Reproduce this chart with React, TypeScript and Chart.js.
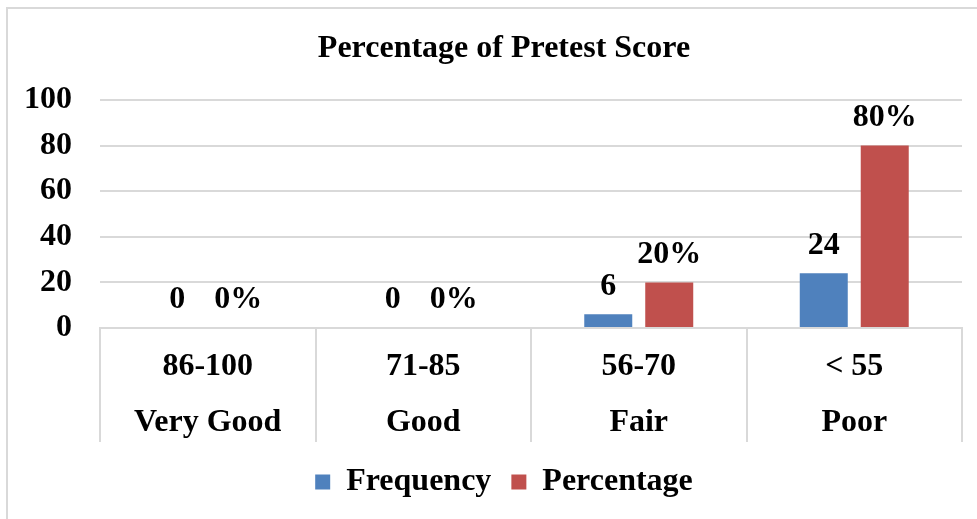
import React, { useEffect, useRef } from 'react';
import { Chart, registerables } from 'chart.js';

Chart.register(...registerables);

const categories: string[][] = [
  ['86-100', 'Very Good'],
  ['71-85', 'Good'],
  ['56-70', 'Fair'],
  ['< 55', 'Poor'],
];
const frequency = [0, 0, 6, 24];
const percentage = [0, 0, 20, 80];
const seriesNames = ['Frequency', 'Percentage'];
const seriesColors = ['#4f81bd', '#c0504d'];
const yMin = 0;
const yMax = 100;
const yStep = 20;
const titleText = 'Percentage of Pretest Score';

const FONT = '"Liberation Serif", "Times New Roman", serif';
const GRID = '#d9d9d9';
const FS = 32;

const decorPlugin = {
  id: 'decor',
  beforeDraw(chart: any) {
    const ctx = chart.ctx;
    ctx.save();
    ctx.fillStyle = '#ffffff';
    ctx.fillRect(0, 0, chart.width, chart.height);
    ctx.strokeStyle = GRID;
    ctx.lineWidth = 2;
    ctx.strokeRect(7, 8, chart.width + 40, chart.height + 40);
    ctx.restore();
  },
  afterDraw(chart: any) {
    const ctx = chart.ctx;
    const x = chart.scales.x;
    const n = categories.length;
    const area = chart.chartArea;
    ctx.save();
    ctx.strokeStyle = GRID;
    ctx.lineWidth = 2;
    for (let i = 0; i <= n; i++) {
      const px = Math.round(x.left + (i * (x.right - x.left)) / n);
      ctx.beginPath();
      ctx.moveTo(px, area.bottom);
      ctx.lineTo(px, area.bottom + 114);
      ctx.stroke();
    }
    ctx.restore();
  },
  afterDatasetsDraw(chart: any) {
    const ctx = chart.ctx;
    ctx.save();
    ctx.font = `bold ${FS}px ${FONT}`;
    ctx.fillStyle = '#000000';
    ctx.textAlign = 'center';
    ctx.textBaseline = 'middle';
    chart.data.datasets.forEach((ds: any, di: number) => {
      const meta = chart.getDatasetMeta(di);
      meta.data.forEach((el: any, i: number) => {
        const v = ds.data[i];
        const txt = di === 1 ? `${v}%` : `${v}`;
        ctx.fillText(txt, el.x, el.y - 28);
      });
    });
    ctx.restore();
  },
};

export default function App() {
  const ref = useRef<HTMLCanvasElement | null>(null);
  useEffect(() => {
    if (!ref.current) return;
    const chart = new Chart(ref.current, {
      type: 'bar',
      data: {
        labels: categories as any,
        datasets: [
          {
            label: seriesNames[0],
            data: frequency,
            backgroundColor: seriesColors[0],
            barPercentage: 0.787,
            categoryPercentage: 0.566,
          },
          {
            label: seriesNames[1],
            data: percentage,
            backgroundColor: seriesColors[1],
            barPercentage: 0.787,
            categoryPercentage: 0.566,
          },
        ],
      },
      options: {
        animation: false,
        responsive: false,
        layout: { padding: { left: 0, right: 0, top: 0, bottom: 11 } },
        plugins: {
          title: {
            display: true,
            text: titleText,
            color: '#000',
            font: { family: FONT, size: FS, weight: 'bold', lineHeight: 1.2 },
            padding: { top: 29.8, bottom: 31.8 },
          },
          legend: {
            position: 'bottom',
            labels: {
              color: '#000',
              font: { family: FONT, size: FS, weight: 'bold' },
              boxWidth: 15,
              boxHeight: 15,
              padding: 20,
            },
          },
          tooltip: { enabled: false },
        },
        scales: {
          x: {
            grid: { display: false, drawTicks: false },
            border: { display: true, color: GRID, width: 2 },
            ticks: {
              color: '#000',
              padding: 11,
              maxRotation: 0,
              autoSkip: false,
              font: { family: FONT, size: FS, weight: 'bold', lineHeight: '56px' as any },
            },
            afterFit: (s: any) => {
              s.height = 118;
            },
          },
          y: {
            min: yMin,
            max: yMax,
            ticks: {
              stepSize: yStep,
              color: '#000',
              padding: 28,
              font: { family: FONT, size: FS, weight: 'bold' },
            },
            grid: { color: GRID, lineWidth: 2, drawTicks: false },
            border: { display: false },
            afterFit: (s: any) => {
              s.width = 100;
            },
          },
          spacer: {
            type: 'linear',
            position: 'right',
            display: true,
            grid: { display: false, drawTicks: false },
            border: { display: false },
            ticks: { display: false },
            afterFit: (s: any) => {
              s.width = 46;
            },
          },
        },
      },
      plugins: [decorPlugin],
    });
    return () => chart.destroy();
  }, []);
  return (
    <div style={{ position: 'absolute', left: 0, top: 0, width: 977, height: 519, overflow: 'hidden' }}>
      <canvas ref={ref} width={1008} height={519} style={{ display: 'block' }} />
    </div>
  );
}
